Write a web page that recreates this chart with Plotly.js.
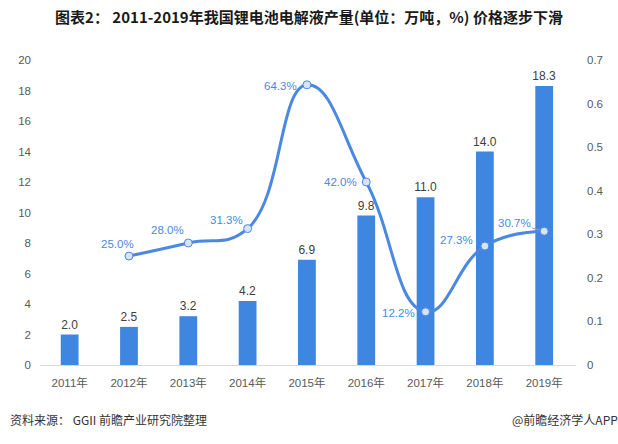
<!DOCTYPE html>
<html><head><meta charset="utf-8">
<script src="https://cdn.plot.ly/plotly-3.0.1.min.js"></script>
<style>html,body{margin:0;padding:0;background:#fff}#c{width:618px;height:444px}</style>
</head><body><div id="c"></div>
<script>
const years = ['2011年','2012年','2013年','2014年','2015年','2016年','2017年','2018年','2019年'];
const output = [2.0, 2.5, 3.2, 4.2, 6.9, 9.8, 11.0, 14.0, 18.3];
const rateYears = ['2012年','2013年','2014年','2015年','2016年','2017年','2018年','2019年'];
const growth = [0.250, 0.280, 0.313, 0.643, 0.420, 0.122, 0.273, 0.307];
const leftTicks = [0,2,4,6,8,10,12,14,16,18,20];
const rightTicks = [0,0.1,0.2,0.3,0.4,0.5,0.6,0.7];

const FONT = '"Noto Sans CJK SC", "Microsoft YaHei", sans-serif';
const TICKFONT = '"Liberation Sans", "Noto Sans CJK SC", sans-serif';
// label offsets (px) relative to each growth point
const labelDX = [-11, -21, -21, -26, -26, -27, -28, -30];
const labelDY = [12, 13, 9, -1, 0, -1, 6, 8];

const bars = {
  type:'bar', x: years, y: output, yaxis:'y',
  marker:{color:'#3F86E0'},
  text: output.map(v=>v.toFixed(1)), textposition:'outside', constraintext:'none',
  textfont:{family:TICKFONT, size:12, color:'#404040'},
  cliponaxis:false, hoverinfo:'none'
};
const line = {
  type:'scatter', mode:'lines+markers', x: rateYears, y: growth, yaxis:'y2',
  line:{color:'#4A88E2', width:3, shape:'spline', smoothing:1.3},
  marker:{size:8, color:'#D6E4F8', line:{color:'#4A88E2', width:1}},
  cliponaxis:false, hoverinfo:'none'
};

const growthLabels = growth.map((v,i)=>{
  const last = i === growth.length-1;
  return {
    xref:'x', yref:'y2', x: rateYears[i], y: v,
    text:(v*100).toFixed(1)+'%',
    font:{family:TICKFONT, size:11.5, color:'#4A88E2'},
    showarrow: last,
    ax: labelDX[i], ay: -labelDY[i], axref:'pixel', ayref:'pixel',
    arrowhead:0, arrowwidth:1, arrowcolor:'#9a9a9a', standoff:4,
    xanchor:'center', yanchor:'middle',
    xshift: last ? 0 : labelDX[i], yshift: last ? 0 : labelDY[i]
  };
});

const layout = {
  width:618, height:444,
  margin:{l:40, r:42, t:60, b:79},
  paper_bgcolor:'#fff', plot_bgcolor:'#fff',
  showlegend:false, bargap:0.7,
  font:{family:TICKFONT, color:'#595959'},
  title:{text:'<b>图表2： 2011-2019年我国锂电池电解液产量(单位：万吨，%) 价格逐步下滑</b>',
    font:{family:FONT, size:15, color:'#1a1a1a'}, x:0.5, xanchor:'center', y:0.96, yanchor:'middle'},
  xaxis:{type:'category', categoryorder:'array', categoryarray: years,
    showline:true, linecolor:'#D9D9D9', linewidth:1, showgrid:false, ticks:'',
    tickfont:{family:TICKFONT, size:11.5, color:'#595959'}, ticklabelstandoff:7, zeroline:false},
  yaxis:{range:[0,20], tickvals:leftTicks, showgrid:false, zeroline:false, showline:false, ticks:'',
    tickfont:{family:TICKFONT, size:11.5, color:'#595959'}, ticklabelstandoff:8},
  yaxis2:{range:[0,0.7], tickvals:rightTicks, ticktext:rightTicks.map(v=>v===0?'0':String(v)),
    overlaying:'y', side:'right', showgrid:false, zeroline:false, showline:false, ticks:'',
    tickfont:{family:TICKFONT, size:11.5, color:'#595959'}, ticklabelstandoff:10},
  annotations: growthLabels.concat([
    {xref:'paper', yref:'paper', x:-0.06, y:-0.18, xanchor:'left', yanchor:'middle', showarrow:false,
     text:'资料来源： GGII 前瞻产业研究院整理', font:{family:FONT, size:12, color:'#333'}},
    {xref:'paper', yref:'paper', x:1.082, y:-0.18, xanchor:'right', yanchor:'middle', showarrow:false,
     text:'@前瞻经济学人APP', font:{family:FONT, size:12, color:'#333'}}
  ])
};
Plotly.newPlot('c', [bars, line], layout, {displayModeBar:false, staticPlot:true});
</script></body></html>
